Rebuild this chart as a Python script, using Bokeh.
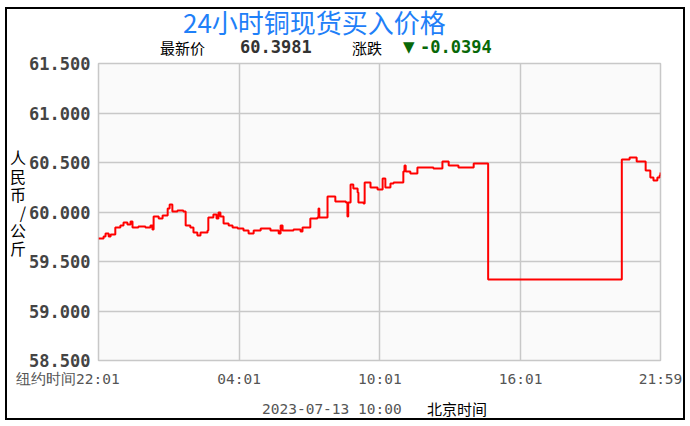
from bokeh.plotting import figure
from bokeh.models import FixedTicker, Div
from bokeh.layouts import column
from bokeh.embed import file_html
from bokeh.resources import INLINE

# ---- data (minutes after 22:01 New York time, price in RMB/kg) ----
minutes = [0, 13, 18, 26, 31, 43, 56, 64, 74, 82, 87, 102, 120, 133, 138, 141, 154, 164,
           177, 182, 189, 202, 217, 223, 235, 243, 253, 261, 279, 281, 294, 302, 307, 312,
           320, 333, 343, 356, 371, 384, 397, 415, 440, 461, 466, 471, 499, 517, 522, 537,
           542, 560, 563, 565, 581, 586, 606, 633, 637, 639, 645, 652, 663, 665, 678, 681,
           696, 714, 727, 734, 747, 755, 780, 783, 786, 798, 816, 857, 880, 896, 921, 960,
           997, 1339, 1359, 1377, 1400, 1412, 1420, 1430, 1436, 1438]
prices = [59.732, 59.752, 59.783, 59.752, 59.773, 59.843, 59.864, 59.894, 59.874, 59.904,
          59.843, 59.854, 59.843, 59.864, 59.823, 59.955, 59.934, 59.965, 60.035, 60.076,
          60.005, 60.015, 60.005, 59.864, 59.843, 59.793, 59.763, 59.793, 59.813, 59.944,
          59.975, 59.934, 59.995, 59.955, 59.884, 59.864, 59.843, 59.833, 59.813, 59.783,
          59.813, 59.833, 59.813, 59.783, 59.864, 59.813, 59.823, 59.803, 59.843, 59.843,
          59.934, 59.944, 60.035, 59.944, 59.944, 60.157, 60.106, 60.096, 59.955, 60.096,
          60.278, 60.237, 60.197, 60.096, 60.086, 60.298, 60.247, 60.227, 60.338, 60.247,
          60.288, 60.298, 60.409, 60.470, 60.409, 60.389, 60.450, 60.439, 60.510, 60.470,
          60.450, 60.490, 59.318, 60.530, 60.551, 60.510, 60.419, 60.348, 60.318, 60.348,
          60.370, 60.398]

x_ticks = [0, 360, 720, 1080, 1438]
x_tick_labels = ["22:01", "04:01", "10:01", "16:01", "21:59"]
y_ticks = [58.5, 59.0, 59.5, 60.0, 60.5, 61.0, 61.5]

title_text = "24小时铜现货买入价格"
latest_label = "最新价"
latest_value = "60.3981"
change_label = "涨跌"
change_value = "-0.0394"
y_title = "人民币/公斤"
x_prefix = "纽约时间"
date_text = "2023-07-13 10:00"
tz_text = "北京时间"

CJK = "Noto Sans CJK SC"
MONO = "DejaVu Sans Mono"
W = 678


def span(text, left, top, font, size, color, weight="normal"):
    return (f'<span style="position:absolute;left:{left}px;top:{top}px;'
            f"font-family:'{font}';font-size:{size}px;font-weight:{weight};"
            f'color:{color};line-height:1;white-space:nowrap;">{text}</span>')


top_html = ('<div style="position:relative;width:%dpx;height:45px;">' % W
            + span(title_text, 177, 1, CJK, 26, "#1f80f8")
            + span(latest_label, 154, 32, CJK, 15, "#000000")
            + span(latest_value, 234, 31, MONO, 17, "#333333", "bold")
            + span(change_label, 346, 32, CJK, 15, "#000000")
            + span("▼", 397, 32, "DejaVu Sans", 15, "#086808")
            + span(change_value, 414, 31, MONO, 17, "#086808", "bold")
            + "</div>")
bottom_html = ('<div style="position:relative;width:%dpx;height:24px;">' % W
               + span(date_text, 256, 7, MONO, 14.5, "#555555")
               + span(tz_text, 421, 6, CJK, 15, "#000000")
               + "</div>")

top_div = Div(text=top_html, width=W, height=45, margin=0)
bottom_div = Div(text=bottom_html, width=W, height=24, margin=0)

p = figure(width=W, height=342, output_backend="svg", toolbar_location=None,
           x_range=(0, 1438), y_range=(58.5, 61.5), margin=0,
           min_border_left=92, min_border_right=24, min_border_top=10, min_border_bottom=35,
           background_fill_color="#fafafa", border_fill_color=None)

p.outline_line_color = "#c8c8c8"
p.outline_line_width = 1.5

# x tick labels; the first one carries the "纽约时间" prefix (padded so it sits left)
x_labels = list(x_tick_labels)
x_labels[0] = x_prefix + x_labels[0] + "\u00a0" * 7
p.xaxis.ticker = FixedTicker(ticks=x_ticks)
p.xaxis.major_label_overrides = {t: l for t, l in zip(x_ticks, x_labels)}
p.yaxis.ticker = FixedTicker(ticks=y_ticks)
p.yaxis.major_label_overrides = {t: f"{t:.3f}" for t in y_ticks}

for ax in (p.xaxis[0], p.yaxis[0]):
    ax.axis_line_color = None
    ax.major_tick_line_color = None
    ax.minor_tick_line_color = None
    ax.major_tick_out = 0
    ax.major_tick_in = 0
    ax.minor_tick_out = 0
    ax.minor_tick_in = 0

p.yaxis.major_label_text_font = MONO
p.yaxis.major_label_text_font_style = "bold"
p.yaxis.major_label_text_font_size = "17px"
p.yaxis.major_label_text_color = "#444444"
p.yaxis.major_label_standoff = 8

# stacked, upright y-axis title
p.yaxis.axis_label = "\n".join(y_title) + "\n\u00a0"
p.yaxis.axis_label_orientation = "horizontal"
p.yaxis.axis_label_text_font = CJK
p.yaxis.axis_label_text_font_size = "16px"
p.yaxis.axis_label_text_font_style = "normal"
p.yaxis.axis_label_text_color = "#000000"
p.yaxis.axis_label_text_line_height = 0.76
p.yaxis.axis_label_standoff = 0

p.xaxis.major_label_text_font = MONO
p.xaxis.major_label_text_font_size = "14.5px"
p.xaxis.major_label_text_color = "#555555"
p.xaxis.major_label_standoff = 10

p.xgrid.ticker = FixedTicker(ticks=x_ticks)
p.ygrid.ticker = FixedTicker(ticks=y_ticks)
for g in (p.xgrid[0], p.ygrid[0]):
    g.grid_line_color = "#c8c8c8"
    g.grid_line_width = 1.5

p.step(minutes, prices, mode="after", line_color="#ff0000", line_width=2)

layout = column(top_div, p, bottom_div, spacing=0, margin=(8, 0, 0, 6),
                styles={"outline": "2px solid #000000", "outline-offset": "-1px",
                        "background-color": "#ffffff"})

open("out.html", "w").write(file_html(layout, INLINE))
